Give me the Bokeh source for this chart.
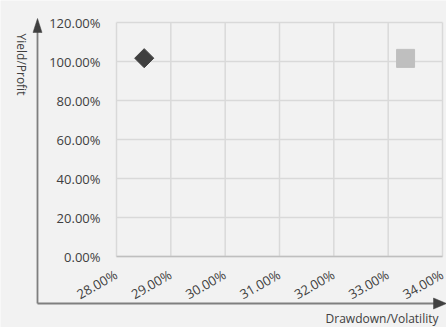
import math
from bokeh.plotting import figure
from bokeh.models import Range1d, Label
from bokeh.core.properties import value
from bokeh.embed import file_html
from bokeh.resources import INLINE

# ---- data ----
x_ticks = [28, 29, 30, 31, 32, 33, 34]
x_tick_labels = ["28.00%", "29.00%", "30.00%", "31.00%", "32.00%", "33.00%", "34.00%"]
y_ticks = [0, 20, 40, 60, 80, 100, 120]
y_tick_labels = ["0.00%", "20.00%", "40.00%", "60.00%", "80.00%", "100.00%", "120.00%"]
series_a_x = [28.51]
series_a_y = [101.7]
series_b_x = [33.32]
series_b_y = [101.6]
x_title = "Drawdown/Volatility"
y_title = "Yield/Profit"

# ---- layout (pixels) ----
W, H = 446, 327
PLOT_L, PLOT_R, PLOT_T, PLOT_B = 116, 442, 22, 256
kx = (PLOT_R - PLOT_L) / (x_ticks[-1] - x_ticks[0])
ky = (PLOT_B - PLOT_T) / (y_ticks[-1] - y_ticks[0])


def dx(px):
    return x_ticks[0] + (px - PLOT_L) / kx


def dy(py):
    return y_ticks[0] + (PLOT_B - py) / ky


BG = "#f2f2f2"
TXT = "#404040"
FONT = "Open Sans"

p = figure(width=W, height=H, output_backend="svg", toolbar_location=None,
           x_range=Range1d(dx(0), dx(W)), y_range=Range1d(dy(H), dy(0)),
           x_axis_location=None, y_axis_location=None,
           min_border=0)
p.background_fill_color = BG
p.border_fill_color = BG
p.outline_line_color = None
p.grid.visible = False

# grid lines from the tick arrays
n = len(x_ticks)
m = len(y_ticks)
p.segment(x0=x_ticks, y0=[y_ticks[0]] * n, x1=x_ticks, y1=[y_ticks[-1]] * n,
          line_color="#d9d9d9", line_width=1.5)
p.segment(x0=[x_ticks[0]] * m, y0=y_ticks, x1=[x_ticks[-1]] * m, y1=y_ticks,
          line_color="#d9d9d9", line_width=1.5)
# axis line at the bottom of the plot area
p.segment(x0=[x_ticks[0]], y0=[y_ticks[0]], x1=[x_ticks[-1]], y1=[y_ticks[0]],
          line_color="#bfbfbf", line_width=1.5)

# tick labels
p.text(x=[x_ticks[0]] * m, y=y_ticks, text=y_tick_labels, x_offset=-16,
       text_align="right", text_baseline="middle",
       text_font=value(FONT), text_font_size="13px", text_color=TXT)
p.text(x=x_ticks, y=[y_ticks[0]] * n, text=x_tick_labels, x_offset=-5, y_offset=9,
       angle=0.52, text_align="right", text_baseline="top",
       text_font=value(FONT), text_font_size="13px", text_color=TXT)

# series
p.scatter(series_a_x, series_a_y, marker="square", angle=math.pi / 4, size=13.5,
          fill_color="#404040", line_color="#404040")
p.scatter(series_b_x, series_b_y, marker="square", size=18,
          fill_color="#bfbfbf", line_color="#bfbfbf")

# outer axis arrows
AX, AY = 37, 303
p.segment(x0=[dx(AX)], y0=[dy(AY)], x1=[dx(AX)], y1=[dy(30)], line_color="#7f7f7f", line_width=1.8)
p.segment(x0=[dx(AX)], y0=[dy(AY)], x1=[dx(434)], y1=[dy(AY)], line_color="#7f7f7f", line_width=1.8)
p.patch(x=[dx(AX - 4.5), dx(AX), dx(AX + 4.5)], y=[dy(32), dy(18), dy(32)],
        fill_color="#404040", line_color="#404040", line_width=0.5)
p.patch(x=[dx(433), dx(446), dx(433)], y=[dy(AY - 5.5), dy(AY), dy(AY + 5.5)],
        fill_color="#404040", line_color="#404040", line_width=0.5)

# axis titles
p.add_layout(Label(x=dx(20.5), y=dy(64), text=y_title, angle=-math.pi / 2,
                   text_align="center", text_baseline="middle",
                   text_font=FONT, text_font_size="12px", text_color=TXT))
p.add_layout(Label(x=dx(438), y=dy(318), text=x_title,
                   text_align="right", text_baseline="middle",
                   text_font=FONT, text_font_size="12px", text_color=TXT))

open("out.html", "w").write(file_html(p, INLINE))
